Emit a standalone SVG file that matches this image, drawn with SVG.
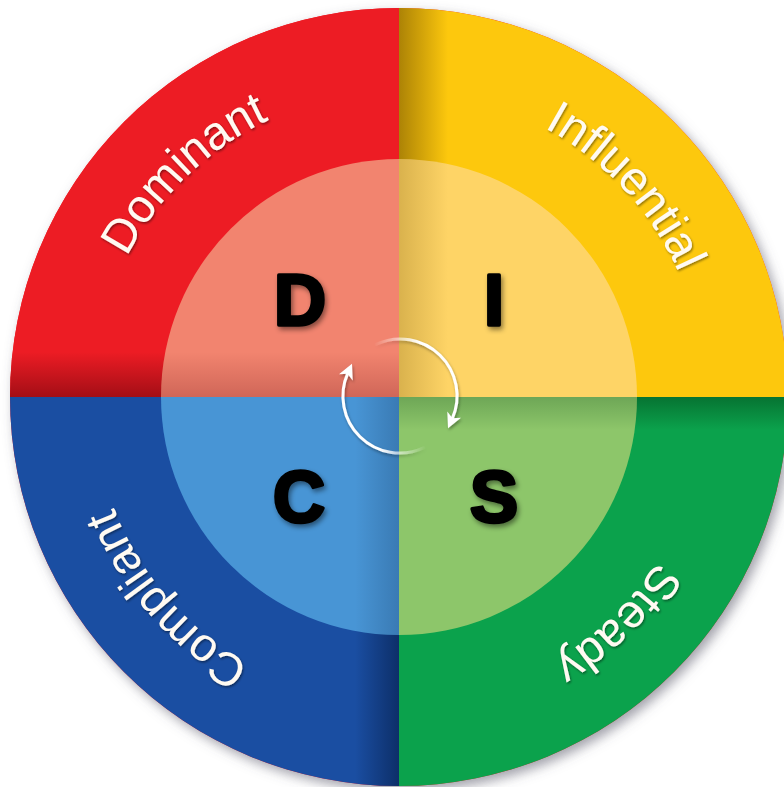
<svg xmlns="http://www.w3.org/2000/svg" width="784" height="787" viewBox="0 0 784 787">
<defs>
<style>
.lbl{font-family:"Liberation Sans",Arial,sans-serif;font-size:47px;fill:#fffaf2;filter:url(#tsh)}
.big{font-family:"Liberation Sans",Arial,sans-serif;font-weight:bold;font-size:72px;fill:#000;stroke:#000;stroke-width:3.5;stroke-linejoin:round;text-anchor:middle;filter:url(#lsh)}
.arc{fill:none;stroke-width:3;stroke-linecap:round}
</style>
<filter id="outsh" x="-10%" y="-10%" width="120%" height="120%">
<feDropShadow dx="4" dy="5" stdDeviation="6" flood-color="#556" flood-opacity="0.55"/>
</filter>
<filter id="tsh" x="-20%" y="-20%" width="140%" height="140%">
<feDropShadow dx="1" dy="1.5" stdDeviation="1" flood-color="#000" flood-opacity="0.45"/>
</filter>
<filter id="lsh" x="-30%" y="-30%" width="160%" height="160%">
<feDropShadow dx="2" dy="3" stdDeviation="2.5" flood-color="#000" flood-opacity="0.45"/>
</filter>
<filter id="ash" x="-30%" y="-30%" width="160%" height="160%">
<feDropShadow dx="1" dy="2" stdDeviation="1.5" flood-color="#000" flood-opacity="0.35"/>
</filter>
<clipPath id="cRed"><path d="M399,397 L10,397 A389,389 0 0 1 399,8 Z"/></clipPath>
<clipPath id="cYel"><path d="M399,397 L399,8 A389,389 0 0 1 788,397 Z"/></clipPath>
<clipPath id="cGrn"><path d="M399,397 L788,397 A389,389 0 0 1 399,786 Z"/></clipPath>
<clipPath id="cBlu"><path d="M399,397 L399,786 A389,389 0 0 1 10,397 Z"/></clipPath>
<clipPath id="iRed"><path d="M399,397 L161,397 A238,238 0 0 1 399,159 Z"/></clipPath>
<clipPath id="iYel"><path d="M399,397 L399,159 A238,238 0 0 1 637,397 Z"/></clipPath>
<clipPath id="iGrn"><path d="M399,397 L637,397 A238,238 0 0 1 399,635 Z"/></clipPath>
<clipPath id="iBlu"><path d="M399,397 L399,635 A238,238 0 0 1 161,397 Z"/></clipPath>
<linearGradient id="gRed" gradientUnits="userSpaceOnUse" x1="0" y1="352" x2="0" y2="397">
<stop offset="0" stop-color="#5a0008" stop-opacity="0"/><stop offset="1" stop-color="#5a0008" stop-opacity="0.5"/>
</linearGradient>
<linearGradient id="gYel" gradientUnits="userSpaceOnUse" x1="399" y1="0" x2="448" y2="0">
<stop offset="0" stop-color="#6a4a00" stop-opacity="0.55"/><stop offset="1" stop-color="#6a4a00" stop-opacity="0"/>
</linearGradient>
<linearGradient id="gGrn" gradientUnits="userSpaceOnUse" x1="0" y1="397" x2="0" y2="430">
<stop offset="0" stop-color="#003a12" stop-opacity="0.45"/><stop offset="1" stop-color="#003a12" stop-opacity="0"/>
</linearGradient>
<linearGradient id="gBlu" gradientUnits="userSpaceOnUse" x1="399" y1="0" x2="355" y2="0">
<stop offset="0" stop-color="#001030" stop-opacity="0.5"/><stop offset="1" stop-color="#001030" stop-opacity="0"/>
</linearGradient>
<linearGradient id="fa1" gradientUnits="userSpaceOnUse" x1="374" y1="0" x2="420" y2="0">
<stop offset="0" stop-color="#fff" stop-opacity="0"/><stop offset="1" stop-color="#fff" stop-opacity="1"/>
</linearGradient>
<linearGradient id="fa2" gradientUnits="userSpaceOnUse" x1="426" y1="0" x2="380" y2="0">
<stop offset="0" stop-color="#fff" stop-opacity="0"/><stop offset="1" stop-color="#fff" stop-opacity="1"/>
</linearGradient>
<marker id="ah" markerUnits="userSpaceOnUse" markerWidth="24" markerHeight="24" viewBox="-12 -12 24 24" refX="0" refY="0" orient="auto">
<path d="M10,0 L-5,-7.5 L-1,0 L-5,7.5 Z" fill="#fff"/>
</marker>
<path id="ring" d="M705,397 A306,306 0 1 1 93,397 A306,306 0 1 1 705,397"/>
</defs>
<rect width="784" height="787" fill="#fff"/>
<g filter="url(#outsh)">
<circle cx="399" cy="397" r="389" fill="#ed1c24"/>
</g>
<g id="node-D">
<path d="M399,397 L10,397 A389,389 0 0 1 399,8 Z" fill="#ed1c24"/>
<rect x="10" y="352" width="389" height="45" fill="url(#gRed)" clip-path="url(#cRed)"/>
<path d="M399,397 L161,397 A238,238 0 0 1 399,159 Z" fill="#f2846f"/>
<rect x="161" y="352" width="238" height="45" fill="url(#gRed)" opacity="0.45" clip-path="url(#iRed)"/>
<text class="lbl"><textPath href="#ring" startOffset="62.8%" text-anchor="middle">Dominant</textPath></text>
<text class="big" x="300" y="325">D</text>
</g>
<g id="node-I">
<path d="M399,397 L399,8 A389,389 0 0 1 788,397 Z" fill="#fdc80d"/>
<rect x="399" y="8" width="50" height="389" fill="url(#gYel)" clip-path="url(#cYel)"/>
<path d="M399,397 L399,159 A238,238 0 0 1 637,397 Z" fill="#fed466"/>
<rect x="399" y="159" width="50" height="238" fill="url(#gYel)" opacity="0.45" clip-path="url(#iYel)"/>
<text class="lbl"><textPath href="#ring" startOffset="88.1%" text-anchor="middle">Influential</textPath></text>
<text class="big" x="494" y="325">I</text>
</g>
<g id="node-S">
<path d="M399,397 L788,397 A389,389 0 0 1 399,786 Z" fill="#0ba24c"/>
<rect x="399" y="397" width="389" height="35" fill="url(#gGrn)" clip-path="url(#cGrn)"/>
<path d="M399,397 L637,397 A238,238 0 0 1 399,635 Z" fill="#8dc66a"/>
<rect x="399" y="397" width="238" height="35" fill="url(#gGrn)" opacity="0.5" clip-path="url(#iGrn)"/>
<text class="lbl"><textPath href="#ring" startOffset="12.8%" text-anchor="middle">Steady</textPath></text>
<text class="big" x="494" y="522">S</text>
</g>
<g id="node-C">
<path d="M399,397 L399,786 A389,389 0 0 1 10,397 Z" fill="#1a4ea2"/>
<rect x="350" y="397" width="49" height="389" fill="url(#gBlu)" clip-path="url(#cBlu)"/>
<path d="M399,397 L399,635 A238,238 0 0 1 161,397 Z" fill="#4895d5"/>
<rect x="350" y="397" width="49" height="238" fill="url(#gBlu)" opacity="0.4" clip-path="url(#iBlu)"/>
<text class="lbl"><textPath href="#ring" startOffset="38.6%" text-anchor="middle">Compliant</textPath></text>
<text class="big" x="299" y="522">C</text>
</g>
<g id="connectors" filter="url(#ash)">
<path class="arc" d="M375.9,344.3 A57,57 0 0 1 452.1,419.2" stroke="url(#fa1)" marker-end="url(#ah)"/>
<path class="arc" d="M424.1,447.7 A57,57 0 0 1 347.9,372.8" stroke="url(#fa2)" marker-end="url(#ah)"/>
</g>
</svg>
